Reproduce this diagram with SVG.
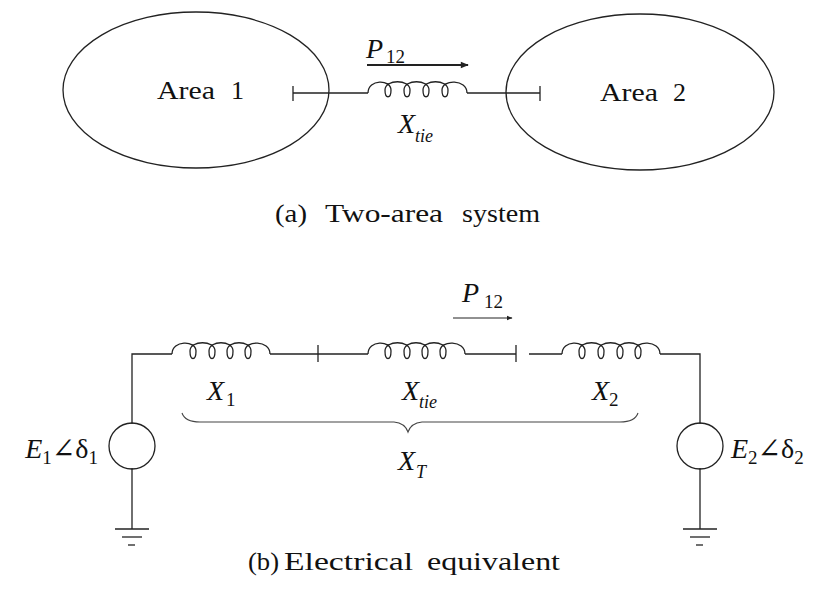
<svg xmlns="http://www.w3.org/2000/svg" width="815" height="599" viewBox="0 0 815 599">
<style>
.ln{stroke:#222;stroke-width:1.3;fill:none}
.thin{stroke:#444;stroke-width:1.1;fill:none}
.t{fill:#111}
.i{font-style:italic;fill:#111}
.s{font-style:normal}
</style>
<defs>
<marker id="ah" viewBox="0 0 10 10" refX="9" refY="5" markerWidth="6" markerHeight="6" markerUnits="userSpaceOnUse" orient="auto"><path d="M0,1 L10,5 L0,9 z" fill="#222"/></marker>
<marker id="ah2" viewBox="0 0 10 10" refX="9" refY="5" markerWidth="9" markerHeight="8" markerUnits="userSpaceOnUse" orient="auto"><path d="M0,1 L10,5 L0,9 z" fill="#222"/></marker>
</defs>
<rect width="815" height="599" fill="#fff"/>
<g font-family="Liberation Serif, 'DejaVu Serif', 'Times New Roman', serif">

<g id="area1">
<ellipse cx="196" cy="90" rx="133" ry="78" class="ln"/>
<text x="157" y="99" class="t" font-size="26" textLength="58" lengthAdjust="spacingAndGlyphs">Area</text>
<text x="231" y="99" class="t" font-size="26">1</text>
</g>
<g id="area2">
<ellipse cx="640" cy="92" rx="134" ry="78" class="ln"/>
<text x="600" y="101" class="t" font-size="26" textLength="58" lengthAdjust="spacingAndGlyphs">Area</text>
<text x="673" y="101" class="t" font-size="26">2</text>
</g>

<g id="tie-top">
<path class="ln" d="M368,93 C368,79 391,79 391,90 C391,99 385,99 385,90 C385,79 410,79 410,90 C410,99 404,99 404,90 C404,79 429,79 429,90 C429,99 423,99 423,90 C423,79 448,79 448,90 C448,99 442,99 442,90 C442,79 467,79 467,93"/>
<text x="398" y="133" class="i" font-size="28">X<tspan dy="9" font-size="18">tie</tspan></text>
</g>

<g id="connectors">
<line x1="293" y1="86" x2="293" y2="101" class="ln"/>
<line x1="293" y1="93" x2="368" y2="93" class="ln"/>
<line x1="467" y1="93" x2="540" y2="93" class="ln"/>
<line x1="540" y1="86" x2="540" y2="101" class="ln"/>
<line x1="367" y1="65" x2="468" y2="65" stroke="#222" stroke-width="2.2" marker-end="url(#ah2)"/>

<path class="ln" d="M132,424 L132,354 L172,354"/>
<line x1="270" y1="354" x2="368" y2="354" class="ln"/>
<line x1="318" y1="345" x2="318" y2="362" class="ln"/>
<line x1="465" y1="354" x2="516" y2="354" class="ln"/>
<line x1="516" y1="345" x2="516" y2="362" class="ln"/>
<line x1="529" y1="354" x2="562" y2="354" class="ln"/>
<path class="ln" d="M660,354 L700,354 L700,424"/>
<line x1="132" y1="468" x2="132" y2="529" class="ln"/>
<line x1="700" y1="468" x2="700" y2="529" class="ln"/>
<line x1="453" y1="318" x2="512" y2="318" stroke="#222" stroke-width="1" marker-end="url(#ah)"/>
</g>

<g id="coil-x1">
<path class="ln" d="M172,354 C172,340 196,340 196,351 C196,361 190,361 190,351 C190,340 215,340 215,351 C215,361 209,361 209,351 C209,340 233,340 233,351 C233,361 227,361 227,351 C227,340 251,340 251,351 C251,361 245,361 245,351 C245,340 270,340 270,354"/>
<text x="207" y="400" class="i" font-size="28">X<tspan class="s" dx="2" dy="6" font-size="19">1</tspan></text>
</g>
<g id="coil-xtie">
<path class="ln" d="M368,354 C368,340 391,340 391,351 C391,361 385,361 385,351 C385,340 410,340 410,351 C410,361 404,361 404,351 C404,340 428,340 428,351 C428,361 422,361 422,351 C422,340 446,340 446,351 C446,361 440,361 440,351 C440,340 465,340 465,354"/>
<text x="402" y="400" class="i" font-size="28">X<tspan dy="8" font-size="18">tie</tspan></text>
</g>
<g id="coil-x2">
<path class="ln" d="M562,354 C562,340 585,340 585,351 C585,361 579,361 579,351 C579,340 604,340 604,351 C604,361 598,361 598,351 C598,340 623,340 623,351 C623,361 617,361 617,351 C617,340 641,340 641,351 C641,361 635,361 635,351 C635,340 660,340 660,354"/>
<text x="592" y="400" class="i" font-size="28">X<tspan class="s" dy="6" font-size="19">2</tspan></text>
</g>

<g id="brace">
<path class="thin" d="M182,413 Q185,422 200,422 L394,422 Q405,423 408,432 Q411,423 422,422 L620,422 Q635,422 638,413"/>
<text x="398" y="470" class="i" font-size="28">X<tspan dx="1" dy="8" font-size="18">T</tspan></text>
</g>

<g id="p12-top">
<text x="366" y="58" class="i" font-size="28">P<tspan class="s" dx="3" dy="5" font-size="19">12</tspan></text>
</g>
<g id="p12-bottom">
<text x="462" y="302" class="i" font-size="28">P<tspan class="s" dx="5" dy="6" font-size="19">12</tspan></text>
</g>

<g id="source1">
<circle cx="132" cy="446" r="23" class="ln"/>
<text x="98" y="458" class="i" font-size="28" text-anchor="end">E<tspan class="s" dy="6" font-size="19">1</tspan><tspan class="s" dy="-6">∠δ</tspan><tspan class="s" dy="6" font-size="19">1</tspan></text>
</g>
<g id="source2">
<circle cx="700" cy="446" r="23" class="ln"/>
<text x="731" y="458" class="i" font-size="28">E<tspan class="s" dy="6" font-size="19">2</tspan><tspan class="s" dy="-6">∠δ</tspan><tspan class="s" dy="6" font-size="19">2</tspan></text>
</g>

<g id="ground1">
<line x1="115" y1="529" x2="149" y2="529" class="ln"/>
<line x1="122" y1="537" x2="142" y2="537" class="ln"/>
<line x1="128" y1="545" x2="135" y2="545" class="ln"/>
</g>
<g id="ground2">
<line x1="683" y1="529" x2="717" y2="529" class="ln"/>
<line x1="690" y1="537" x2="710" y2="537" class="ln"/>
<line x1="696" y1="545" x2="703" y2="545" class="ln"/>
</g>

<g id="caption-a" class="t" font-size="26">
<text x="275" y="222" textLength="32" lengthAdjust="spacingAndGlyphs">(a)</text>
<text x="325" y="222" textLength="118" lengthAdjust="spacingAndGlyphs">Two-area</text>
<text x="462" y="222" textLength="78" lengthAdjust="spacingAndGlyphs">system</text>
</g>
<g id="caption-b" class="t" font-size="26">
<text x="248" y="570" textLength="31" lengthAdjust="spacingAndGlyphs">(b)</text>
<text x="284" y="570" textLength="129" lengthAdjust="spacingAndGlyphs">Electrical</text>
<text x="427" y="570" textLength="133" lengthAdjust="spacingAndGlyphs">equivalent</text>
</g>
</g>
</svg>
